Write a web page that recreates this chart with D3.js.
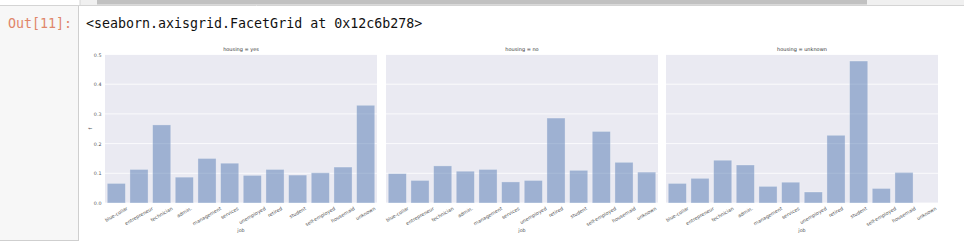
<!DOCTYPE html>
<html>
<head>
<meta charset="utf-8">
<script src="https://cdn.jsdelivr.net/npm/d3@7"></script>
<style>
  body { margin: 0; background: #fff; }
  svg { display: block; }
  .tick_lbl { font-family: "DejaVu Sans", sans-serif; font-size: 4.8px; fill: #555; }
  .facet_title { font-family: "DejaVu Sans", sans-serif; font-size: 5px; fill: #333; }
</style>
</head>
<body>
<svg id="chart" width="964" height="244"></svg>
<script>
// data
var jobs = ['blue-collar', 'entrepreneur', 'technician', 'admin.', 'management', 'services',
            'unemployed', 'retired', 'student', 'self-employed', 'housemaid', 'unknown'];
var facets = ['housing = yes', 'housing = no', 'housing = unknown'];
var fYes     = [0.066, 0.113, 0.263, 0.087, 0.150, 0.134, 0.093, 0.113, 0.094, 0.102, 0.121, 0.329];
var fNo      = [0.099, 0.076, 0.125, 0.107, 0.113, 0.071, 0.076, 0.286, 0.110, 0.241, 0.137, 0.104];
var fUnknown = [0.066, 0.083, 0.144, 0.128, 0.056, 0.070, 0.037, 0.228, 0.478, 0.049, 0.103, 0];
var yTicks = [0.0, 0.1, 0.2, 0.3, 0.4, 0.5];
var series = [fYes, fNo, fUnknown];

var svg = d3.select('#chart');

// notebook chrome: top scrollbar strip
svg.append('rect').attr('x', 80).attr('y', 0).attr('width', 884).attr('height', 5).attr('fill', '#f0f0f0');
svg.append('rect').attr('x', 97).attr('y', 0).attr('width', 770).attr('height', 4.5).attr('fill', '#c1c1c1');
svg.append('line').attr('x1', 80).attr('y1', 0).attr('x2', 80).attr('y2', 5).attr('stroke', '#d6d6d6');
svg.append('line').attr('x1', 0).attr('y1', 5.5).attr('x2', 964).attr('y2', 5.5).attr('stroke', '#d4d4d4');

// prompt gutter
svg.append('rect').attr('x', 0).attr('y', 6).attr('width', 78).attr('height', 234.5).attr('fill', '#f7f7f7');
svg.append('line').attr('x1', 78.5).attr('y1', 6).attr('x2', 78.5).attr('y2', 241).attr('stroke', '#cfcfcf');
svg.append('line').attr('x1', 0).attr('y1', 240.5).attr('x2', 79).attr('y2', 240.5).attr('stroke', '#cfcfcf');

svg.append('text')
  .attr('x', 8).attr('y', 27.5)
  .attr('font-family', '"DejaVu Sans Mono", monospace')
  .attr('font-size', '13.3px')
  .attr('fill', '#e0866a')
  .text('Out[11]:');
svg.append('text')
  .attr('x', 86).attr('y', 27.5)
  .attr('font-family', '"DejaVu Sans Mono", monospace')
  .attr('font-size', '13.3px')
  .attr('fill', '#111')
  .text('<seaborn.axisgrid.FacetGrid at 0x12c6b278>');

// facet layout
var panelX = [105, 386, 666];
var panelW = 272;
var plotTop = 54.5, plotBase = 203;

var y = d3.scaleLinear().domain([0, 0.5]).range([plotBase, plotTop]);

facets.forEach(function(title, i) {
  var x0 = panelX[i];
  var x = d3.scaleBand().domain(jobs).range([x0, x0 + panelW]).padding(0.2).paddingOuter(0.1);
  var g = svg.append('g');

  g.append('rect')
    .attr('x', x0).attr('y', plotTop)
    .attr('width', panelW).attr('height', plotBase - plotTop)
    .attr('fill', '#eaeaf2');

  // white grid
  g.selectAll('.grid').data(yTicks).enter().append('line')
    .attr('x1', x0).attr('x2', x0 + panelW)
    .attr('y1', function(d) { return y(d); })
    .attr('y2', function(d) { return y(d); })
    .attr('stroke', '#fff').attr('stroke-width', 0.8);

  g.selectAll('.bar').data(series[i]).enter().append('rect')
    .attr('x', function(d, j) { return x(jobs[j]); })
    .attr('y', function(d) { return y(d); })
    .attr('width', x.bandwidth())
    .attr('height', function(d) { return plotBase - y(d); })
    .attr('fill', '#4c72b0').attr('fill-opacity', 0.48)
    .attr('stroke', '#fff').attr('stroke-opacity', 0.35).attr('stroke-width', 0.8)
    .style('display', function(d) { return d > 0 ? null : 'none'; });

  // x axis, rotated labels centred under the ticks, tops aligned
  var xa = g.append('g').attr('transform', 'translate(0,' + plotBase + ')')
    .call(d3.axisBottom(x).tickSize(0).tickPadding(0));
  xa.select('.domain').remove();
  xa.selectAll('.tick text').each(function() {
    var t = d3.select(this);
    t.attr('class', 'tick_lbl').attr('fill', null)
      .attr('text-anchor', 'middle').attr('dy', '0.32em').attr('y', 0);
    var L = this.getComputedTextLength();
    var half = L / 2 * 0.5 + 4.8 / 2 * 0.866;
    t.attr('transform', 'translate(0,' + (3 + half) + ') rotate(-30)');
  });

  g.append('text')
    .attr('class', 'facet_title')
    .attr('x', x0 + panelW / 2).attr('y', 50.5)
    .attr('text-anchor', 'middle')
    .text(title);

  g.append('text')
    .attr('class', 'tick_lbl')
    .attr('x', x0 + panelW / 2).attr('y', 232)
    .attr('text-anchor', 'middle')
    .text('job');

  if (i === 0) {
    var ya = g.append('g').attr('transform', 'translate(' + x0 + ',0)')
      .call(d3.axisLeft(y).tickValues(yTicks).tickFormat(d3.format('.1f')).tickSize(0).tickPadding(3.5));
    ya.select('.domain').remove();
    ya.selectAll('.tick text').attr('class', 'tick_lbl').attr('fill', null);

    g.append('text')
      .attr('class', 'tick_lbl')
      .attr('transform', 'translate(92,' + ((plotTop + plotBase) / 2) + ') rotate(-90)')
      .attr('text-anchor', 'middle')
      .text('f');
  }
});
</script>
</body>
</html>
